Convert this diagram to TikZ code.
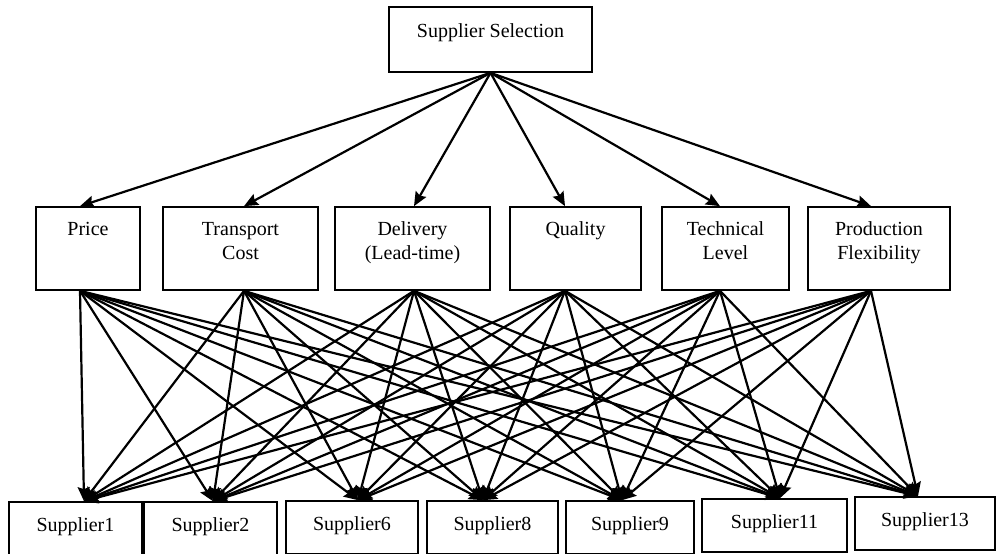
\documentclass[tikz,border=0pt]{standalone}
\usepackage{fontspec}
\setmainfont{Liberation Serif}
\usetikzlibrary{arrows.meta}

\begin{document}
\begin{tikzpicture}[
  x=0.5pt,y=-0.5pt,
  font=\fontsize{10}{12}\selectfont,
  box/.style={draw=black,line width=0.85pt,inner sep=0pt,align=center,
              execute at begin node=\strut},
  lowpad/.style={execute at end node={\rule[-#1]{0pt}{0pt}}},
  link/.style={->,line width=1.1pt},
  >={Stealth[length=7pt,width=6pt,inset=1pt]}
]
\useasboundingbox (0,0) rectangle (996,553);
\node[box,lowpad=10.6pt,minimum width=101.5pt,minimum height=32.5pt] (goal) at (490.5,39.5) {Supplier Selection};
\foreach \name/\cx/\w/\px/\txt in {price/88/104/80/Price\\\mbox{},transport/240.5/155/244/Transport\\Cost,
    delivery/412.5/155/414/Delivery\\(Lead-time),quality/575.5/131/565/Quality\\\mbox{},
    technical/725.5/127/720/Technical\\Level,production/879/142/871/Production\\Flexibility}{
  \node[box,lowpad=7.9pt,minimum width=\w*0.5pt,minimum height=41.5pt] (\name) at (\cx,248.5) {\txt};
  \coordinate (\name-in) at (\px,0 |- \name.north);
  \coordinate (\name-out) at (\px,0 |- \name.south);
}
\foreach \name/\cx/\cy/\w/\tx/\txt in {s1/75.5/528.5/133/84/Supplier1,s2/210.5/528.5/133/213/Supplier2,
    s6/352/527.5/132/358/Supplier6,s8/492.5/527.5/131/483/Supplier8,s9/630/527.5/128/622/Supplier9,
    s11/774.5/525.5/145/780/Supplier11,s13/925/523.5/140/918/Supplier13}{
  \node[box,lowpad=5pt,minimum width=\w*0.5pt,minimum height=26.5pt] (\name) at (\cx,\cy) {\txt};
  \coordinate (\name-in) at (\tx,0 |- \name.north);
}
\foreach \c in {price,transport,delivery,quality,technical,production}{
  \draw[link] (goal.south) -- (\c-in);
  \foreach \s in {s1,s2,s6,s8,s9,s11,s13}
    \draw[link] (\c-out) -- (\s-in);
}
\end{tikzpicture}
\end{document}
